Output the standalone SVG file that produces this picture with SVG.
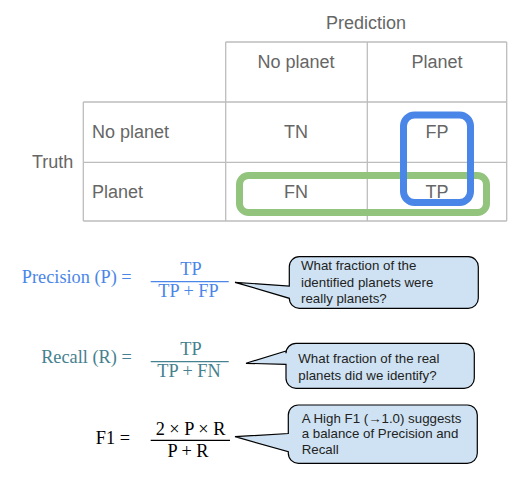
<svg xmlns="http://www.w3.org/2000/svg" width="524" height="484" viewBox="0 0 524 484">
<style>
.grid{stroke:#bdbdbd;stroke-width:1.3;fill:none}
.lbl{font-family:"Liberation Sans",Arial,sans-serif;font-size:18px;fill:#666666}
.c{text-anchor:middle}
.frm{font-family:"Liberation Serif","Times New Roman",serif;font-size:18.3px}
.ct{font-family:"Liberation Sans",Arial,sans-serif;font-size:13.3px;fill:#222222}
.call{fill:#cfe2f3;stroke:#000000;stroke-width:1.2}
</style>
<rect width="524" height="484" fill="#ffffff"/>
<g id="matrix">
<path class="grid" d="M225.7 42V221 M367.3 42V221 M506.7 42V221 M83.3 102V221 M225.7 42H506.7 M83.3 102H506.7 M83.3 162.3H506.7 M83.3 221H506.7"/>
<text class="lbl c" x="366" y="29">Prediction</text>
<text class="lbl c" x="296" y="68">No planet</text>
<text class="lbl c" x="437" y="68">Planet</text>
<text class="lbl" x="92" y="138">No planet</text>
<text class="lbl" x="92" y="198">Planet</text>
<text class="lbl" x="32" y="168">Truth</text>
<text class="lbl c" x="296" y="138">TN</text>
<text class="lbl c" x="437" y="138">FP</text>
<text class="lbl c" x="296" y="198">FN</text>
<text class="lbl c" x="437" y="198">TP</text>
</g>
<g id="highlights">
<rect x="239.5" y="175.5" width="247" height="37" rx="9" fill="none" stroke="#93c47d" stroke-width="7"/>
<rect x="403.5" y="115" width="67" height="87.5" rx="11" fill="none" stroke="#4a86e8" stroke-width="7"/>
</g>
<g id="precision">
<text class="frm" x="131.7" y="283.3" text-anchor="end" fill="#4a86e8">Precision (P) =</text>
<text class="frm" x="191" y="275" text-anchor="middle" fill="#4a86e8">TP</text>
<line x1="150.7" y1="281.7" x2="228.7" y2="281.7" stroke="#4a86e8" stroke-width="1.2"/>
<text class="frm" x="188.5" y="297" text-anchor="middle" fill="#4a86e8">TP + FP</text>
</g>
<g id="recall">
<text class="frm" x="131.7" y="363.3" text-anchor="end" fill="#45818e">Recall (R) =</text>
<text class="frm" x="191" y="355" text-anchor="middle" fill="#45818e">TP</text>
<line x1="150.7" y1="361.7" x2="228.7" y2="361.7" stroke="#45818e" stroke-width="1.2"/>
<text class="frm" x="189" y="376.7" text-anchor="middle" fill="#45818e">TP + FN</text>
</g>
<g id="f1">
<text class="frm" x="130" y="444" text-anchor="end" fill="#000000">F1 =</text>
<text class="frm" x="190.5" y="435" text-anchor="middle" fill="#000000">2 × P × R</text>
<line x1="150.7" y1="440.3" x2="230" y2="440.3" stroke="#000000" stroke-width="1.2"/>
<text class="frm" x="188" y="456.7" text-anchor="middle" fill="#000000">P + R</text>
</g>
<g id="callout1">
<path class="call" d="M299.3 256.7H468.3A10 10 0 0 1 478.3 266.7V298.3A10 10 0 0 1 468.3 308.3H299.3A10 10 0 0 1 289.3 298.3L235 282.3L289.3 286V266.7A10 10 0 0 1 299.3 256.7Z"/>
<text class="ct" x="301" y="270">What fraction of the</text>
<text class="ct" x="301" y="286.7">identified planets were</text>
<text class="ct" x="301" y="303.3">really planets?</text>
</g>
<g id="callout2">
<path class="call" d="M296 343.3H464.3A10 10 0 0 1 474.3 353.3V378.3A10 10 0 0 1 464.3 388.3H296A10 10 0 0 1 286 378.3V364.3L246 363.3L286 351V353.3A10 10 0 0 1 296 343.3Z"/>
<text class="ct" x="298.3" y="362.7">What fraction of the real</text>
<text class="ct" x="298.3" y="380">planets did we identify?</text>
</g>
<g id="callout3">
<path class="call" d="M298.3 405H467.3A10 10 0 0 1 477.3 415V453.3A10 10 0 0 1 467.3 463.3H298.3A10 10 0 0 1 288.3 453.3V451.7L235 436.7L288.3 433.5V415A10 10 0 0 1 298.3 405Z"/>
<text class="ct" x="301.7" y="422.7">A High F1 (→1.0) suggests</text>
<text class="ct" x="301.7" y="438.3">a balance of Precision and</text>
<text class="ct" x="301.7" y="454.3">Recall</text>
</g>
</svg>
